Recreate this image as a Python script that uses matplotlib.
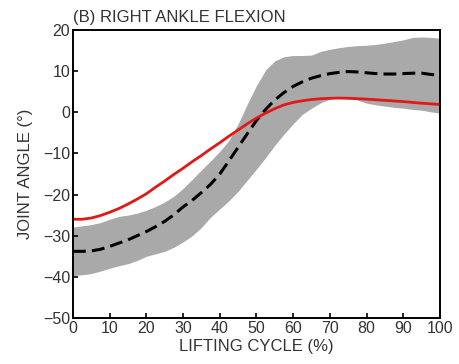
import numpy as np
import matplotlib
matplotlib.use("Agg")
import matplotlib.pyplot as plt

plt.rcParams['font.family'] = ['Liberation Sans', 'DejaVu Sans']

# lifting cycle (%)
cycle = [0, 2.5, 5, 7.5, 10, 12.5, 15, 17.5, 20, 22.5, 25, 27.5, 30, 32.5, 35, 37.5,
         40, 42.5, 45, 47.5, 50, 52.5, 55, 57.5, 60, 62.5, 65, 67.5, 70, 72.5,
         75, 77.5, 80, 82.5, 85, 87.5, 90, 92.5, 95, 97.5, 100]
# red curve
model = [-26.0, -26.0, -25.7, -25.1, -24.3, -23.4, -22.3, -21.1, -19.8, -18.2,
         -16.7, -15.1, -13.6, -12.0, -10.5, -8.9, -7.4, -5.8, -4.3, -2.8,
         -1.4, -0.2, 0.9, 1.8, 2.4, 2.8, 3.1, 3.3, 3.4, 3.45,
         3.4, 3.3, 3.2, 3.05, 2.9, 2.75, 2.6, 2.4, 2.2, 2.05, 1.9]
# dashed mean curve
mean = [-33.8, -33.8, -33.7, -33.3, -32.6, -31.8, -31.0, -30.0, -29.0, -27.8,
        -26.5, -24.9, -23.0, -21.4, -19.5, -17.5, -15.0, -11.8, -8.5, -5.2,
        -2.0, 0.7, 3.0, 4.8, 6.3, 7.4, 8.3, 8.9, 9.4, 9.7,
        9.9, 9.8, 9.6, 9.4, 9.3, 9.3, 9.4, 9.5, 9.5, 9.2, 8.9]
# grey band (mean +/- sd)
upper = [-27.9, -27.6, -27.3, -26.8, -26.0, -25.3, -25.0, -24.5, -23.8, -22.9,
         -21.8, -20.4, -18.5, -16.3, -14.0, -11.8, -9.5, -6.8, -2.8, 2.0,
         6.5, 10.3, 12.5, 13.5, 13.8, 13.8, 13.9, 14.8, 15.3, 15.7,
         16.0, 16.2, 16.3, 16.5, 16.8, 17.2, 17.6, 18.2, 18.3, 18.2, 18.0]
lower = [-39.7, -39.5, -39.2, -38.6, -37.9, -37.3, -36.8, -36.0, -35.0, -34.4,
         -33.8, -32.8, -31.5, -30.0, -28.0, -25.5, -23.5, -21.5, -19.2, -16.5,
         -13.8, -11.0, -8.0, -5.3, -2.8, -0.5, 1.0, 2.3, 3.2, 3.6,
         3.5, 3.0, 2.2, 1.8, 1.5, 1.2, 1.0, 0.7, 0.5, 0.1, -0.2]

fig = plt.figure(figsize=(4.59, 3.64), dpi=100)
ax = fig.add_axes([0.159, 0.1264, 0.7996, 0.7912])

ax.fill_between(cycle, lower, upper, color='#a9a9a9', lw=0)
ax.plot(cycle, mean, color='black', lw=2.2, dashes=(4.2, 2.0))
ax.plot(cycle, model, color='#e01818', lw=2.0)

ax.set_xlim(0, 100)
ax.set_ylim(-50, 20)
ax.set_xticks(np.arange(0, 101, 10))
ax.set_yticks(np.arange(-50, 21, 10))
ax.tick_params(direction='in', length=3.5, width=1.2, labelsize=11.5,
               colors='black', labelcolor='#333333', pad=2)
for s in ax.spines.values():
    s.set_linewidth(1.4)

ax.set_xlabel('LIFTING CYCLE (%)', fontsize=12, color='#333333', labelpad=2)
ax.set_ylabel('JOINT ANGLE (°)', fontsize=12, color='#333333', labelpad=7)
ax.set_title('(B) RIGHT ANKLE FLEXION', fontsize=12, color='#333333',
             loc='left', pad=6)

fig.savefig('out.png', dpi=100)
